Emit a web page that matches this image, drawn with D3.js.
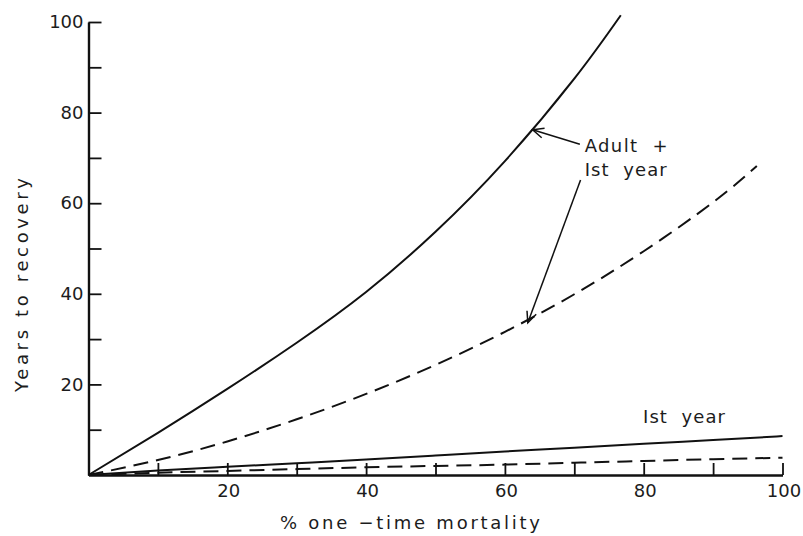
<!DOCTYPE html>
<html><head><meta charset="utf-8">
<script src="https://cdn.jsdelivr.net/npm/d3@7"></script>
<style>
html,body{margin:0;padding:0;background:#fff;}
svg{display:block;}
text{font-family:"DejaVu Sans",sans-serif;fill:#1c1c1c;white-space:pre;}
</style></head>
<body>
<svg id="chart" width="803" height="536"></svg>
<script>
// ---- data ----
const mortality = [0,10,20,30,40,50,60,70,76.7];
const adultFirstSolid = [0,9.3,19.0,29.2,40.4,53.7,69.3,87.5,101.5];

const mortalityDash = [0,10,20,30,40,50,60,70,80,90,96.3];
const adultFirstDashed = [0,3.3,7.4,12.3,17.9,24.3,31.6,39.9,49.4,60.2,68.2];

const mortalityFirst = [0,10,20,30,40,50,60,70,80,90,100];
const firstYearSolid = [0,1.0,1.8,2.6,3.4,4.3,5.2,6.0,6.9,7.7,8.6];
const firstYearDashed = [0,0.5,0.9,1.3,1.7,2.0,2.3,2.7,3.1,3.5,3.8];

const xTicks = [10,20,30,40,50,60,70,80,90,100];
const xTickLabels = ["","20","","40","","60","","80","","100"];
const yTicks = [10,20,30,40,50,60,70,80,90,100];
const yTickLabels = ["","20","","40","","60","","80","","100"];

const xTitle = "% one \u2212time mortality";
const yTitle = "Years to recovery";
const annoTop = ["Adult  +", "Ist  year"];
const annoBottom = "Ist  year";

// ---- layout ----
const svg = d3.select("#chart");
const x = d3.scaleLinear().domain([0,100]).range([88.5,782.5]);
const y = d3.scaleLinear().domain([0,100]).range([475,22]);

// axes
const xAxis = d3.axisBottom(x).tickValues(xTicks)
  .tickFormat((d,i)=>xTickLabels[i]).tickSizeInner(-12).tickSizeOuter(0).tickPadding(9);
const gx = svg.append("g").attr("transform",`translate(0,${y(0)})`).call(xAxis);
gx.select(".domain").attr("stroke","#111").attr("stroke-width",2.4);
gx.selectAll(".tick line").attr("stroke","#111").attr("stroke-width",1.8);
gx.selectAll(".tick text").attr("font-size",18).attr("font-family","DejaVu Sans").attr("fill","#1c1c1c").attr("dx","1");

const yAxis = d3.axisLeft(y).tickValues(yTicks)
  .tickFormat((d,i)=>yTickLabels[i]).tickSizeInner(-13).tickSizeOuter(0).tickPadding(5);
const gy = svg.append("g").attr("transform",`translate(${x(0)},0)`).call(yAxis);
gy.select(".domain").attr("stroke","#111").attr("stroke-width",2.4);
gy.selectAll(".tick line").attr("stroke","#111").attr("stroke-width",1.8);
gy.selectAll(".tick text").attr("font-size",18).attr("font-family","DejaVu Sans").attr("fill","#1c1c1c");

// titles
svg.append("text").attr("x",410).attr("y",529).attr("text-anchor","middle")
  .attr("font-size",18).attr("textLength",260).attr("lengthAdjust","spacing").text(xTitle);
svg.append("text").attr("transform","translate(28,285) rotate(-90)").attr("text-anchor","middle")
  .attr("font-size",18).attr("textLength",214).attr("lengthAdjust","spacing").text(yTitle);

// curves
const line = (xs, ys) => d3.line().x((d,i)=>x(xs[i])).y(d=>y(d)).curve(d3.curveNatural)(ys);
function curve(xs, ys, dashed){
  svg.append("path").attr("d", line(xs, ys)).attr("fill","none")
    .attr("stroke","#111").attr("stroke-width",2)
    .attr("stroke-dasharray", dashed ? "15,8" : null);
}
curve(mortality, adultFirstSolid, false);
curve(mortalityDash, adultFirstDashed, true);
curve(mortalityFirst, firstYearSolid, false);
curve(mortalityFirst, firstYearDashed, true);

// annotations
svg.append("text").attr("x",x(71.5)).attr("y",y(71.4)).attr("font-size",18)
  .attr("textLength",83).attr("lengthAdjust","spacing").text(annoTop[0]);
svg.append("text").attr("x",x(71.5)).attr("y",y(66.0)).attr("font-size",18)
  .attr("textLength",82).attr("lengthAdjust","spacing").text(annoTop[1]);
svg.append("text").attr("x",x(79.9)).attr("y",y(11.5)).attr("font-size",18)
  .attr("textLength",82).attr("lengthAdjust","spacing").text(annoBottom);

function arrow(x0,y0,x1,y1){
  const X0=x(x0),Y0=y(y0),X1=x(x1),Y1=y(y1);
  svg.append("line").attr("x1",X0).attr("y1",Y0).attr("x2",X1).attr("y2",Y1)
    .attr("stroke","#111").attr("stroke-width",1.5);
  const a=Math.atan2(Y0-Y1,X0-X1), L=12, w=0.42;
  const p1=[X1+L*Math.cos(a+w),Y1+L*Math.sin(a+w)], p2=[X1+L*Math.cos(a-w),Y1+L*Math.sin(a-w)];
  svg.append("path").attr("d",`M${p1}L${X1},${Y1}L${p2}`).attr("fill","none")
    .attr("stroke","#111").attr("stroke-width",1.5);
}
arrow(70.8,73.0,64.0,76.2);
arrow(70.9,65.1,63.3,33.6);
</script>
</body></html>
